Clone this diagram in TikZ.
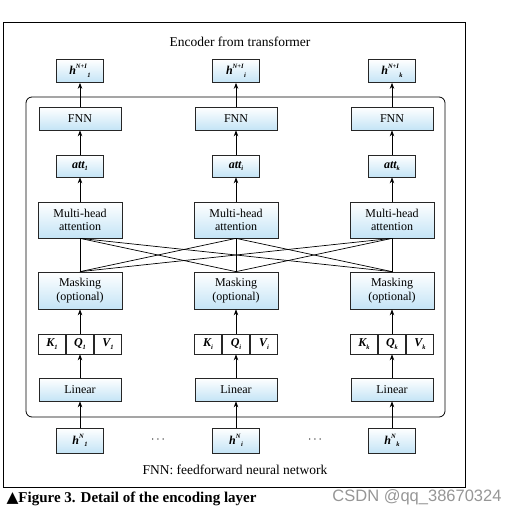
\documentclass[tikz,border=0pt]{standalone}
\usepackage{fontspec}
\setmainfont{Liberation Serif}
\setsansfont{Liberation Sans}
\newfontfamily\dejavu{DejaVu Sans}
\usetikzlibrary{arrows.meta}
\definecolor{lb}{RGB}{196,228,246}
\definecolor{wm}{RGB}{150,150,150}
\newcommand{\sbx}[1]{\raisebox{-0.5ex}{\fontsize{6.5}{7}\selectfont\bfseries\itshape #1}}
\newcommand{\hlab}[2]{{\bfseries\itshape h}\raisebox{1ex}{\fontsize{6.5}{7}\selectfont\bfseries\itshape #1}\kern0.5pt\sbx{#2}}
\begin{document}
\begin{tikzpicture}[x=1pt,y=-1pt,
  every node/.style={font=\fontsize{12}{13.5}\selectfont},
  bluebox/.style={draw=black!85, line width=0.7pt, top color=white, bottom color=lb, inner sep=0pt, align=center},
  cell/.style={draw=black!85, line width=0.7pt, fill=white, inner sep=0pt, minimum width=27.3pt, minimum height=20pt},
  arr/.style={-{Stealth[length=6pt,width=4.5pt]}, line width=0.7pt},
  ln/.style={line width=0.7pt}]
\useasboundingbox (0,0) rectangle (518,516);
% outer frame
\draw[line width=0.9pt] (3,22) rectangle (465,487);
% inner rounded frame
\draw[line width=0.8pt, rounded corners=6pt] (26,97) rectangle (445,417);
\node[font=\fontsize{13.5}{15}\selectfont] (title) at (240,42) {Encoder from transformer};
\node[font=\fontsize{13.5}{15}\selectfont] (foot) at (235,470) {FNN: feedforward neural network};
\node[anchor=west, font=\fontsize{15}{17}\selectfont\bfseries] (cap) at (3,499) {{\dejavu\fontsize{15.5}{16}\selectfont ▲}Figure 3. Detail of the encoding layer};
\node[font=\sffamily\fontsize{16.5}{18}\selectfont, text=wm] (wmk) at (417,497) {CSDN @qq\_38670324};
\node (dots1) at (158,440) {$\cdots$};
\node (dots2) at (315,440) {$\cdots$};
\foreach \c/\x/\s in {1/80/1, 2/236/i, 3/392/k} {
  \node[bluebox, minimum width=47pt, minimum height=23pt] (hout\c) at (\x,71) {\hlab{N+I}{\s}};
  \node[bluebox, minimum width=82pt, minimum height=23pt] (fnn\c) at (\x,118.5) {FNN};
  \node[bluebox, minimum width=47pt, minimum height=22pt] (att\c) at (\x,166) {{\bfseries\itshape att}\sbx{\s}};
  \node[bluebox, minimum width=84pt, minimum height=36pt] (mha\c) at (\x,220) {Multi-head\\attention};
  \node[bluebox, minimum width=84pt, minimum height=37pt] (mask\c) at (\x,290.5) {Masking\\(optional)};
  \node[cell] (q\c) at (\x,344) {{\bfseries\itshape Q}\sbx{\s}};
  \node[cell, anchor=east] (k\c) at (q\c.west) {{\bfseries\itshape K}\sbx{\s}};
  \node[cell, anchor=west] (v\c) at (q\c.east) {{\bfseries\itshape V}\sbx{\s}};
  \node[bluebox, minimum width=82pt, minimum height=23pt] (lin\c) at (\x,389.5) {Linear};
  \node[bluebox, minimum width=47pt, minimum height=25pt] (hin\c) at (\x,440.5) {\hlab{N}{\s}};
  \draw[arr] (hin\c) -- (lin\c);
  \draw[arr] (lin\c) -- (q\c);
  \draw[arr] (q\c) -- (mask\c);
  \draw[arr] (mha\c) -- (att\c);
  \draw[arr] (att\c) -- (fnn\c);
  \draw[arr] (fnn\c) -- (hout\c);
}
\foreach \a in {1,2,3} {
  \foreach \b in {1,2,3} {
    \draw[ln] (mha\a.south) -- (mask\b.north);
  }
}
\end{tikzpicture}
\end{document}
